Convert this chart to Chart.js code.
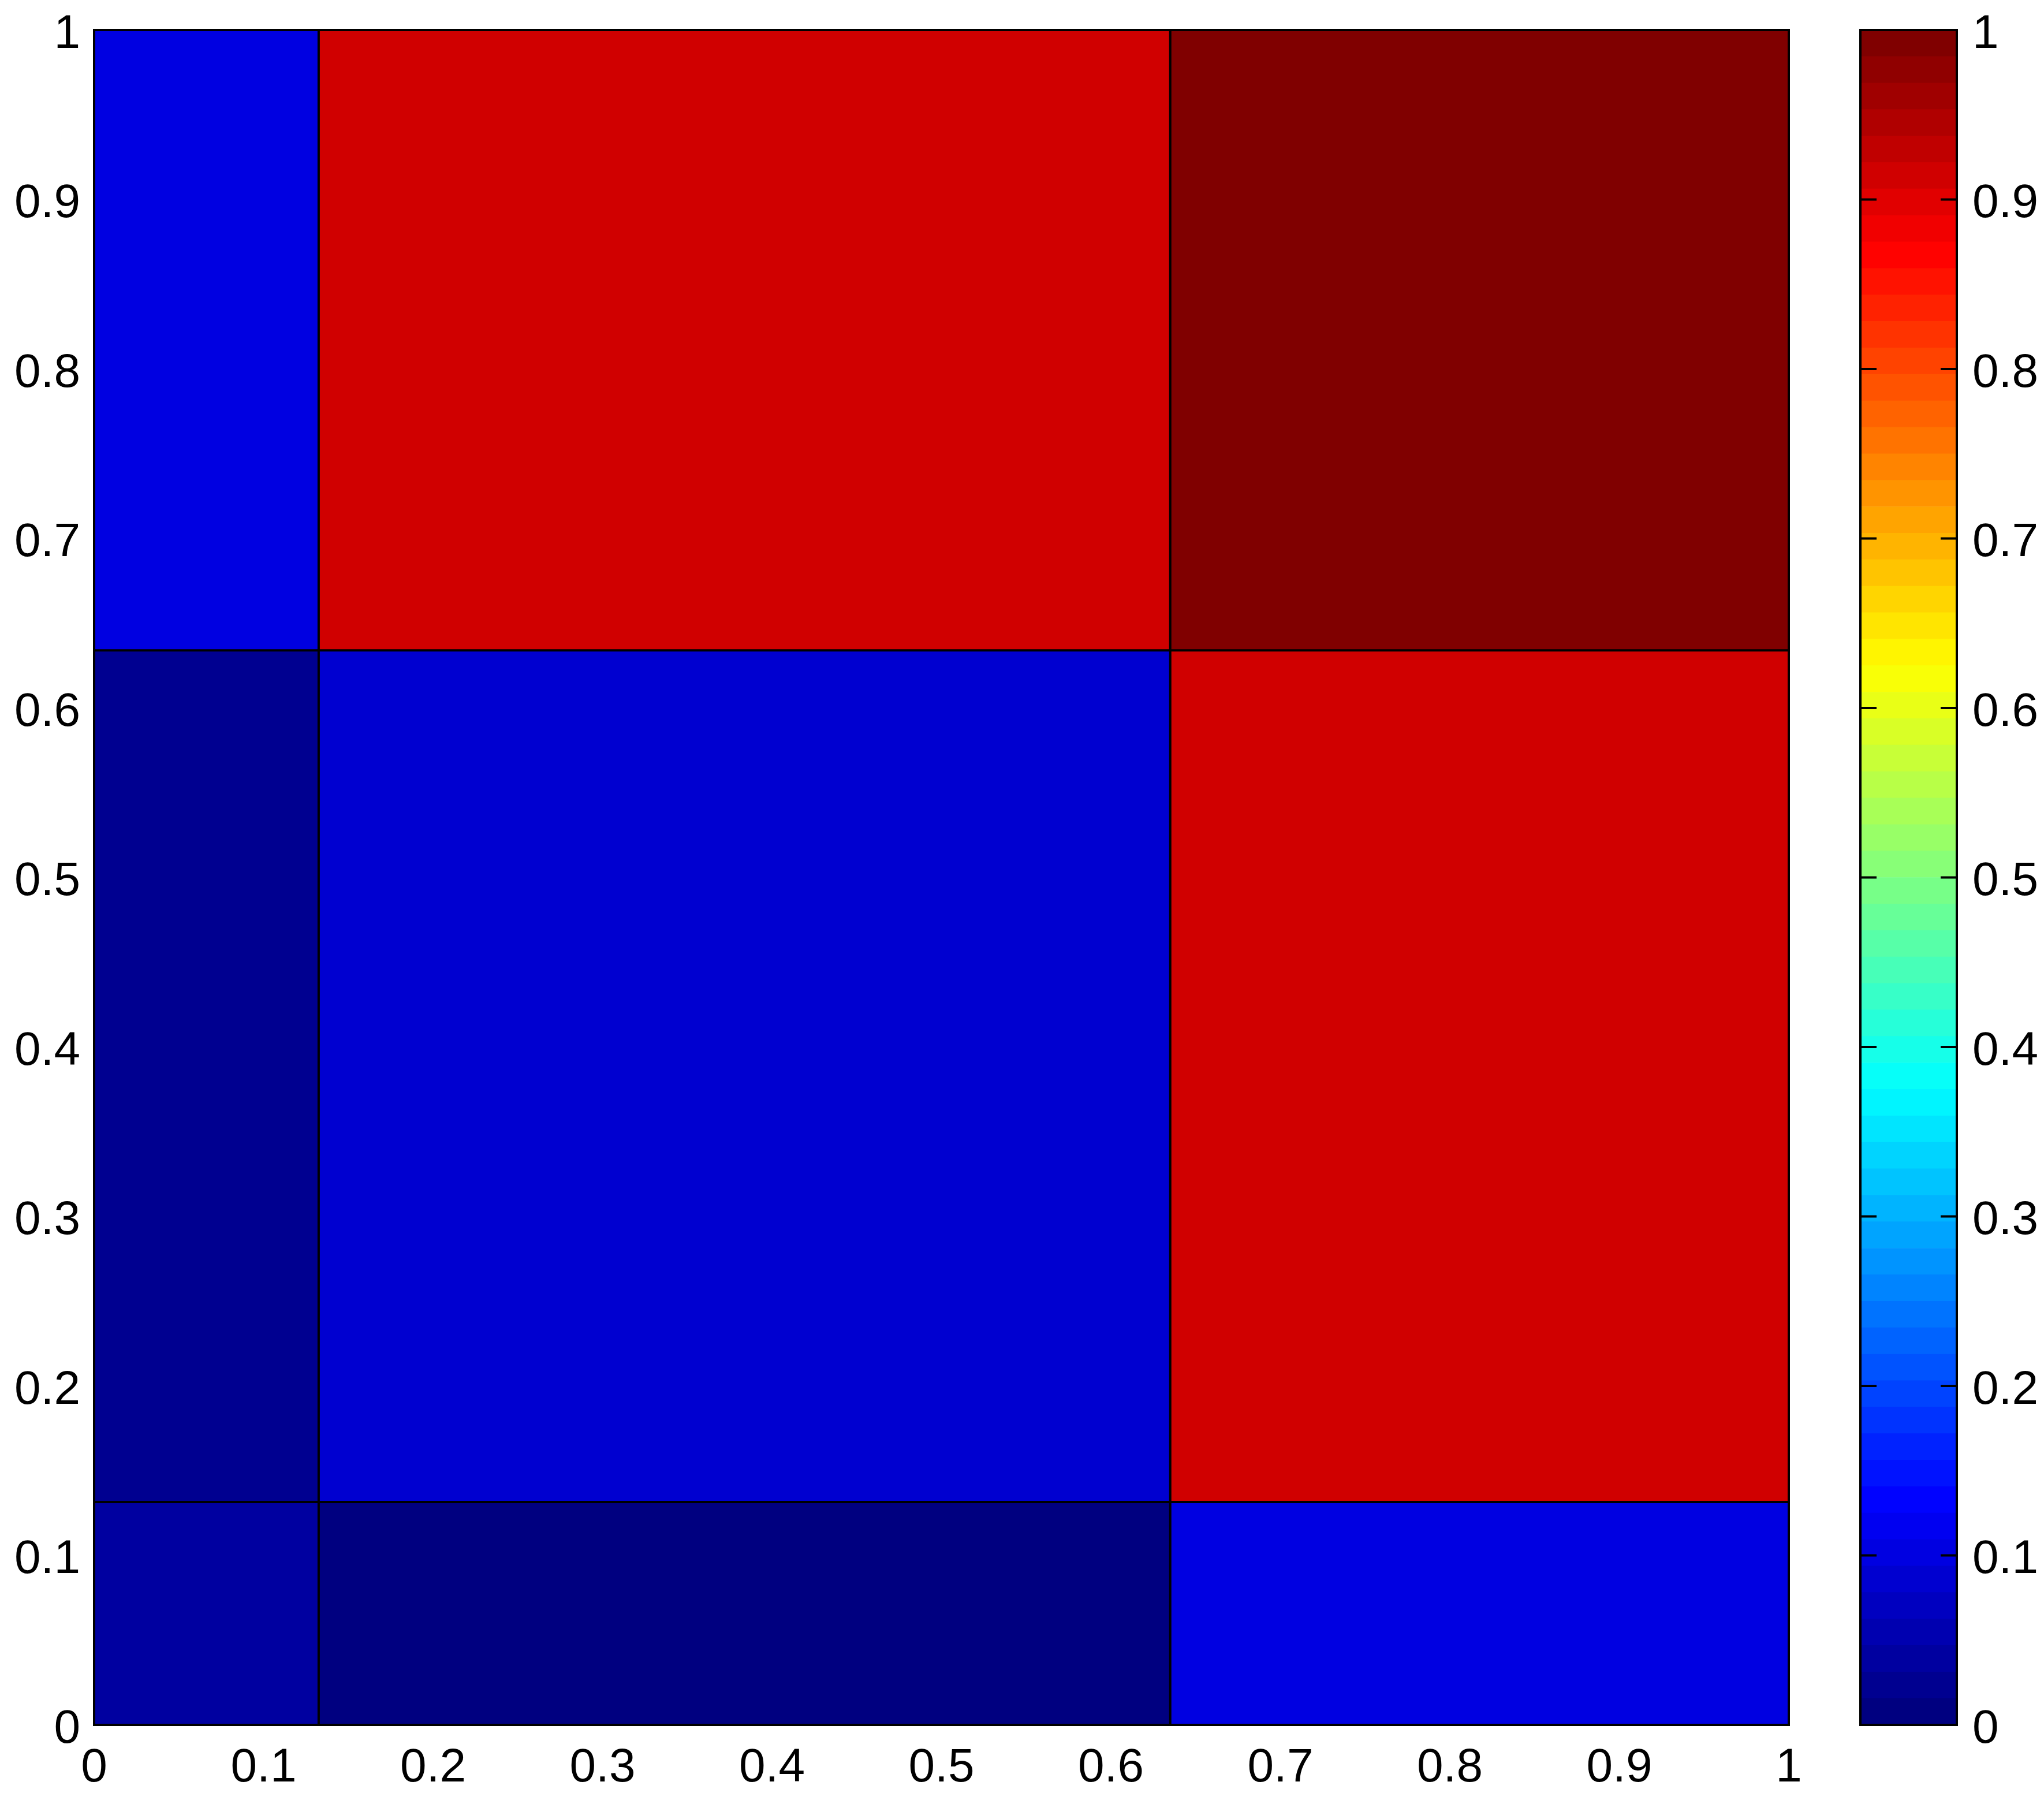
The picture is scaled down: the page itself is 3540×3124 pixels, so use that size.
<!DOCTYPE html>
<html>
<head>
<meta charset="utf-8">
<title>pcolor</title>
<script src="https://cdn.jsdelivr.net/npm/chart.js@4.4.1/dist/chart.umd.min.js"></script>
<style>
    html, body { margin: 0; padding: 0; background: #fff; }
    #wrap { position: relative; width: 3540px; height: 3124px; overflow: hidden; }
    #mainBox { position: absolute; left: 0; top: 0; width: 3140px; height: 3124px; }
    #barBox { position: absolute; left: 3200px; top: 0; width: 340px; height: 3124px; }
</style>
</head>
<body>
<div id="wrap">
    <div id="mainBox"><canvas id="main"></canvas></div>
    <div id="barBox"><canvas id="cbar"></canvas></div>
</div>
<script>
// cell edges (data units)
const xEdges = [0, 0.1325, 0.635, 1];
const yEdges = [0, 0.1315, 0.634, 1];
// cell values, one array per row, bottom to top
const rowBottom = [0.035, 0.0, 0.1];
const rowMiddle = [0.02, 0.08, 0.91];
const rowTop = [0.1, 0.91, 1.0];
const cellRows = [rowBottom, rowMiddle, rowTop];

const axisTicks = [0, 0.1, 0.2, 0.3, 0.4, 0.5, 0.6, 0.7, 0.8, 0.9, 1];
const colorLimits = [0, 1];
const colorLevels = 64;

const FONT = '"Liberation Sans", Arial, Helvetica, sans-serif';
Chart.defaults.font.family = FONT;
Chart.defaults.font.size = 82;
Chart.defaults.color = '#000';
Chart.defaults.animation = false;

function clip01(v) { return Math.max(0, Math.min(1, v)); }

// jet colormap, x in [0,1]
function jet(x) {
    const r = clip01(Math.min(4 * x - 1.5, -4 * x + 4.5));
    const g = clip01(Math.min(4 * x - 0.5, -4 * x + 3.5));
    const b = clip01(Math.min(4 * x + 0.5, -4 * x + 2.5));
    return 'rgb(' + Math.round(r * 255) + ',' + Math.round(g * 255) + ',' + Math.round(b * 255) + ')';
}

function levelColor(i) {
    return jet(i / (colorLevels - 1));
}

function valueColor(v) {
    const t = (v - colorLimits[0]) / (colorLimits[1] - colorLimits[0]);
    const i = Math.max(0, Math.min(colorLevels - 1, Math.floor(t * colorLevels)));
    return levelColor(i);
}

function fmtTick(v) {
    return String(Math.round(v * 10) / 10);
}

// fixed axis sizes, no extra room for the end labels
function fixSize(w, h) {
    return s => {
        if (w !== null) s.width = w;
        if (h !== null) s.height = h;
        s.paddingTop = 0;
        s.paddingBottom = 0;
        s.paddingLeft = 0;
        s.paddingRight = 0;
    };
}

const cellPlugin = {
    id: 'cells',
    beforeDatasetsDraw(chart) {
        const { ctx, scales: { x, y }, chartArea } = chart;
        ctx.save();
        cellRows.forEach((row, r) => {
            row.forEach((val, c) => {
                const x0 = x.getPixelForValue(xEdges[c]);
                const x1 = x.getPixelForValue(xEdges[c + 1]);
                const y0 = y.getPixelForValue(yEdges[r]);
                const y1 = y.getPixelForValue(yEdges[r + 1]);
                ctx.fillStyle = valueColor(val);
                ctx.fillRect(x0, y1, x1 - x0, y0 - y1);
            });
        });
        // cell edges
        ctx.strokeStyle = '#000';
        ctx.lineWidth = 4;
        ctx.beginPath();
        xEdges.forEach(e => {
            const px = x.getPixelForValue(e);
            ctx.moveTo(px, chartArea.top);
            ctx.lineTo(px, chartArea.bottom);
        });
        yEdges.forEach(e => {
            const py = y.getPixelForValue(e);
            ctx.moveTo(chartArea.left, py);
            ctx.lineTo(chartArea.right, py);
        });
        ctx.stroke();
        ctx.strokeRect(chartArea.left, chartArea.top, chartArea.right - chartArea.left, chartArea.bottom - chartArea.top);
        ctx.restore();
    }
};

new Chart(document.getElementById('main'), {
    type: 'scatter',
    data: { datasets: [] },
    options: {
        responsive: true,
        maintainAspectRatio: false,
        layout: { padding: { top: 52, right: 42, left: 0, bottom: 0 } },
        plugins: { legend: { display: false }, tooltip: { enabled: false } },
        scales: {
            x: {
                type: 'linear',
                min: 0,
                max: 1,
                afterBuildTicks: s => { s.ticks = axisTicks.map(v => ({ value: v })); },
                afterFit: fixSize(null, 137),
                grid: { display: false, drawTicks: false },
                border: { display: false },
                ticks: { padding: 26, maxRotation: 0, autoSkip: false, callback: fmtTick }
            },
            y: {
                type: 'linear',
                min: 0,
                max: 1,
                afterBuildTicks: s => { s.ticks = axisTicks.map(v => ({ value: v })); },
                afterFit: fixSize(163, null),
                grid: { display: false, drawTicks: false },
                border: { display: false },
                ticks: { padding: 24, labelOffset: 8, autoSkip: false, callback: fmtTick }
            }
        }
    },
    plugins: [cellPlugin]
});

// colorbar: one stacked bar segment per colormap level
const levelDatasets = [];
for (let i = 0; i < colorLevels; i++) {
    levelDatasets.push({
        data: [(colorLimits[1] - colorLimits[0]) / colorLevels],
        backgroundColor: levelColor(i),
        borderWidth: 0,
        barPercentage: 1,
        categoryPercentage: 1
    });
}

const cbarFrame = {
    id: 'cbarFrame',
    afterDatasetsDraw(chart) {
        const { ctx, scales: { y }, chartArea } = chart;
        ctx.save();
        ctx.strokeStyle = '#000';
        ctx.lineWidth = 4;
        ctx.beginPath();
        axisTicks.forEach(v => {
            if (v <= colorLimits[0] || v >= colorLimits[1]) return;
            const py = y.getPixelForValue(v);
            ctx.moveTo(chartArea.left, py);
            ctx.lineTo(chartArea.left + 28, py);
            ctx.moveTo(chartArea.right, py);
            ctx.lineTo(chartArea.right - 28, py);
        });
        ctx.stroke();
        ctx.strokeRect(chartArea.left, chartArea.top, chartArea.right - chartArea.left, chartArea.bottom - chartArea.top);
        ctx.restore();
    }
};

new Chart(document.getElementById('cbar'), {
    type: 'bar',
    data: { labels: [''], datasets: levelDatasets },
    options: {
        responsive: true,
        maintainAspectRatio: false,
        layout: { padding: { top: 52, right: 0, left: 22, bottom: 137 } },
        plugins: { legend: { display: false }, tooltip: { enabled: false } },
        scales: {
            x: { display: false, stacked: true },
            y: {
                position: 'right',
                stacked: true,
                min: colorLimits[0],
                max: colorLimits[1],
                afterBuildTicks: s => { s.ticks = axisTicks.map(v => ({ value: v })); },
                afterFit: fixSize(151, null),
                grid: { display: false, drawTicks: false },
                border: { display: false },
                ticks: { padding: 27, labelOffset: 8, autoSkip: false, callback: fmtTick }
            }
        }
    },
    plugins: [cbarFrame]
});
</script>
</body>
</html>
